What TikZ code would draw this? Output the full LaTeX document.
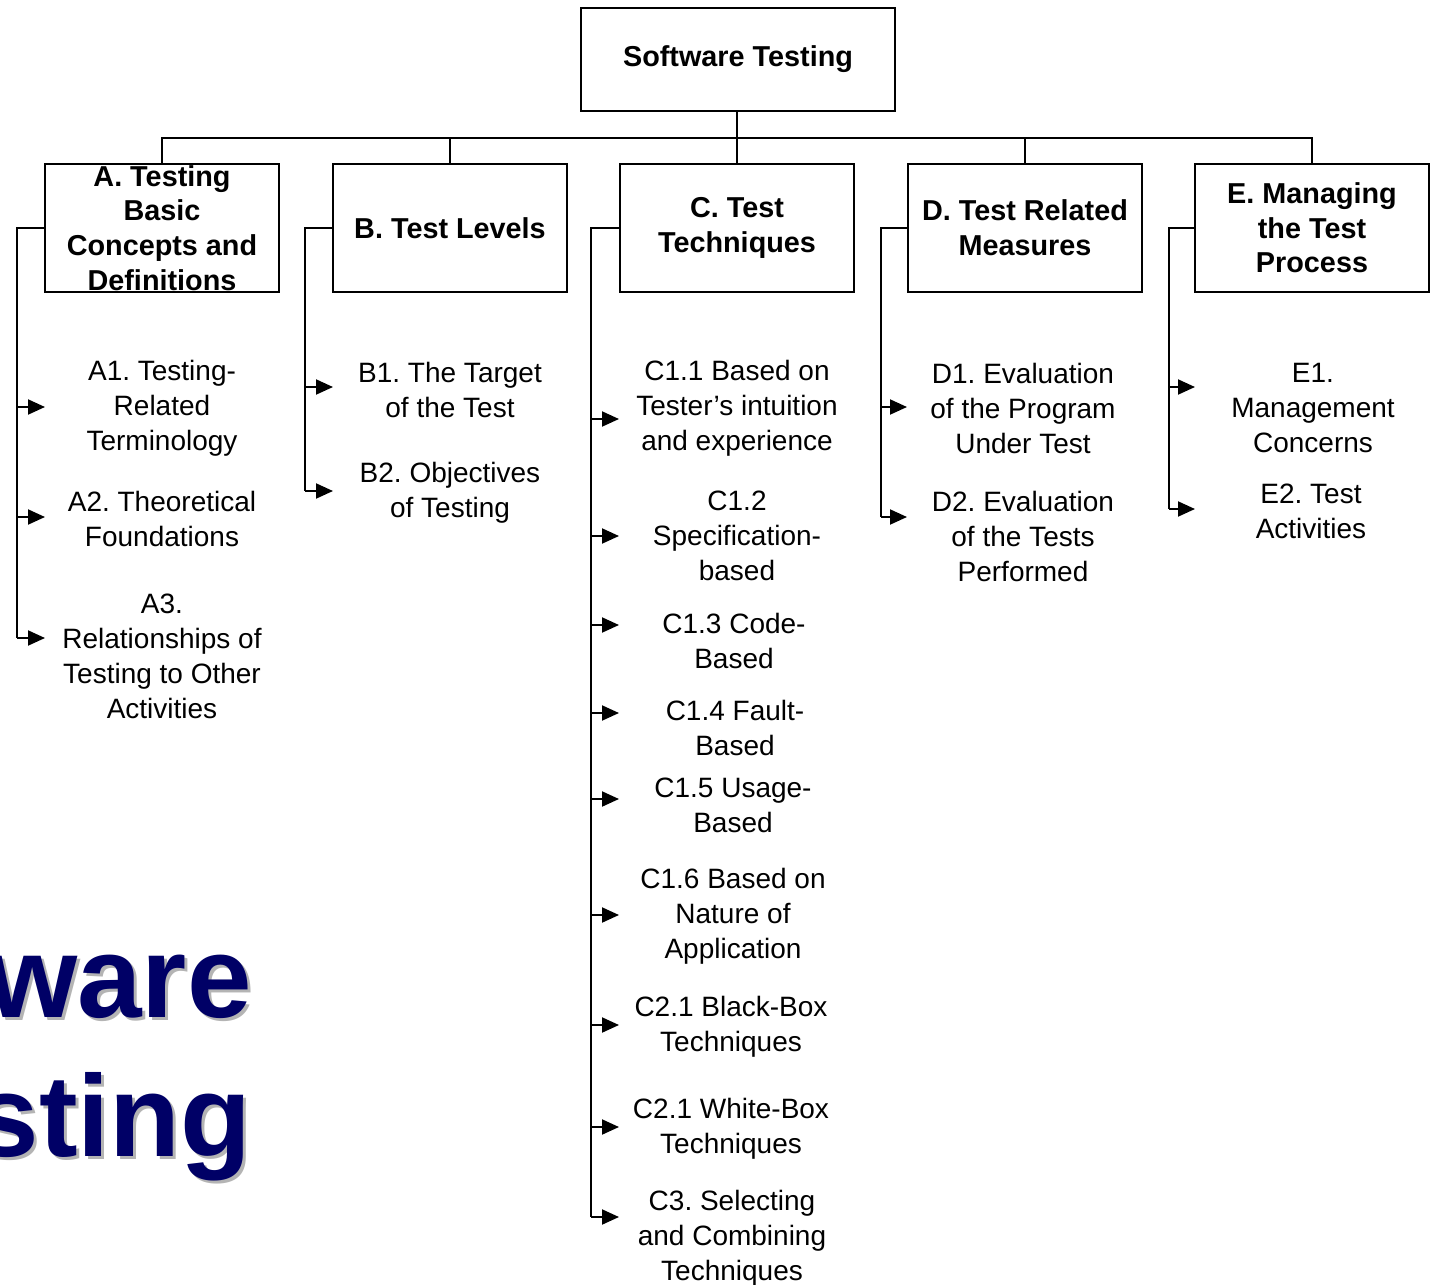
\documentclass[tikz,border=0pt]{standalone}
\usepackage{fontspec}
\setmainfont{Liberation Sans}
\usetikzlibrary{arrows.meta}
\definecolor{titleNavy}{RGB}{0,0,102}
\definecolor{titleShade}{RGB}{180,180,180}
\frenchspacing

\begin{document}
\begin{tikzpicture}
[x=0.5pt,y=-0.5pt,%
  link/.style={-,line width=1pt},%
  feed/.style={-{Triangle[length=8.5pt,width=7.5pt]},line width=1pt},%
  topicBox/.style={draw,line width=1pt,minimum width=117pt,minimum height=64pt,inner sep=0pt,align=center,font=\fontsize{14.4}{17.3}\selectfont\bfseries},%
  leafText/.style={align=center,inner sep=0pt,font=\fontsize{14}{17.5}\selectfont},%
  bigTitle/.style={anchor=base east,inner sep=0pt,font=\fontsize{58}{70}\selectfont\bfseries}]
\useasboundingbox (0,0) rectangle (1431,1285);
%% root and topic boxes
\node[topicBox,minimum width=157pt,minimum height=51.5pt] (root) at (738,59.5) {Software Testing};
\coordinate (bus) at (737,138);
\node[topicBox] (A) at (162,228) {A. Testing\\Basic\\Concepts and\\Definitions};
\node[topicBox] (B) at (450,228) {B. Test Levels};
\node[topicBox] (C) at (737,228) {C. Test\\Techniques};
\node[topicBox] (D) at (1025,228) {D. Test Related\\Measures};
\node[topicBox] (E) at (1312,228) {E. Managing\\the Test\\Process};
%% bus lines
\draw[link] (bus |- root.south) -- (bus);
\foreach \topic in {A,B,C,D,E}
  \draw[link] (\topic.north) |- (bus);
%% subtopic texts
\foreach \nodename/\x/\y/\words in {
  A1/162/408/{A1. Testing-\\Related\\Terminology},
  A2/162/519/{A2. Theoretical\\Foundations},
  A3/162/656/{A3.\\Relationships of\\Testing to Other\\Activities},
  B1/450/390/{B1. The Target\\of the Test},
  B2/450/493/{B2. Objectives\\of Testing},
  C11/737/408/{C1.1 Based on\\Tester's intuition\\and experience},
  C12/737/536/{C1.2\\Specification-\\based},
  C13/734/641/{C1.3 Code-\\Based},
  C14/735/728/{C1.4 Fault-\\Based},
  C15/733/805/{C1.5 Usage-\\Based},
  C16/733/916/{C1.6 Based on\\Nature of\\Application},
  C21/731/1027/{C2.1 Black-Box\\Techniques},
  C22/731/1129/{C2.1 White-Box\\Techniques},
  C3/732/1238/{C3. Selecting\\and Combining\\Techniques},
  D1/1023/408/{D1. Evaluation\\of the Program\\Under Test},
  D2/1023/536/{D2. Evaluation\\of the Tests\\Performed},
  E1/1313/408/{E1.\\Management\\Concerns},
  E2/1311/511/{E2. Test\\Activities}}
{
  \node[leafText] (\nodename) at (\x,\y) {\words};
}
%% spines
\foreach \topic/\sx/\last/\ly in {A/17/A3/638, B/305/B2/491, C/591/C3/1217, D/881/D2/517, E/1169/E2/509}
{
  \coordinate (\topic spine) at (\sx,228);
  \coordinate (\last end) at (\sx,\ly);
  \draw[link] (\topic.west |- \topic spine) -- (\topic spine) -- (\last end);
}
%% arrows into subtopics
\foreach \nodename/\topic/\tx/\ty in {
  A1/A/45/407, A2/A/45/517, A3/A/45/638,
  B1/B/333/387, B2/B/333/491,
  C11/C/619/419, C12/C/619/536, C13/C/619/625, C14/C/619/713, C15/C/619/799,
  C16/C/619/915, C21/C/619/1025, C22/C/619/1127, C3/C/619/1217,
  D1/D/907/407, D2/D/907/517,
  E1/E/1195/387, E2/E/1195/509}
{
  \coordinate (\nodename tip) at (\tx,\ty);
  \draw[feed] (\nodename tip -| \topic spine) -- (\nodename tip);
}
%% big title, cut at the left edge
\begin{scope}
\clip (0,0) rectangle (1431,1285);
\node[bigTitle,text=titleShade] (wareShade) at (255,1020) {ware};
\node[bigTitle,text=titleNavy] (ware) at (252,1017) {ware};
\node[bigTitle,text=titleShade] (stingShade) at (255,1159) {sting};
\node[bigTitle,text=titleNavy] (sting) at (252,1156) {sting};
\end{scope}
\end{tikzpicture}
\end{document}
